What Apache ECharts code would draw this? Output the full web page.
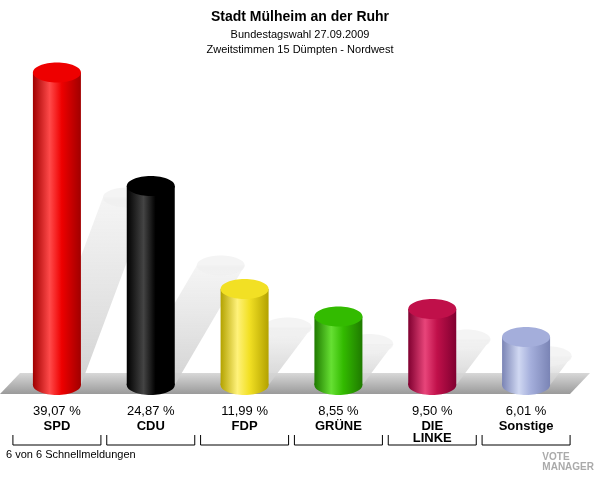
<!doctype html>
<html>
<head>
<meta charset="UTF-8" />
<script src="https://cdn.jsdelivr.net/npm/echarts@6/dist/echarts.min.js"></script>
<style>body{margin:0;background:#fff}#c{width:600px;height:480px}</style>
</head>
<body>
<div id="c"></div>
<script>
var parties = ['SPD', 'CDU', 'FDP', 'GRÜNE', 'DIE\nLINKE', 'Sonstige'];
var values = [39.07, 24.87, 11.99, 8.55, 9.50, 6.01];
var colors = [
    ['#ff4a4a', '#ee0000', '#a00000'],
    ['#444444', '#000000', '#000000'],
    ['#fff27a', '#f2e024', '#b3a200'],
    ['#66e033', '#33bb00', '#1f7a00'],
    ['#e8457a', '#c0104a', '#800030'],
    ['#d0d8f2', '#a4aedb', '#7a84b5']
];
var title = 'Stadt Mülheim an der Ruhr';
var subtitle = 'Bundestagswahl 27.09.2009\nZweitstimmen 15 Dümpten - Nordwest';

var chart = echarts.init(document.getElementById('c'));

function cyl(i, c) {
    return new echarts.graphic.LinearGradient(0, 0, 1, 0, [
        { offset: 0, color: c[2] }, { offset: 0.35, color: c[0] }, { offset: 0.6, color: c[1] }, { offset: 1, color: c[2] }
    ]);
}

// 3D zylinder + schatten
function renderItem(params, api) {
    var i = api.value(0);
    var top = api.coord([i, api.value(1)]);
    var base = api.coord([i, 0]);
    var w = 48, rx = w / 2, ry = 10;
    var h = base[1] - top[1];
    var sdy = h * 0.6, sdx = Math.min(sdy * 0.75, 70);
    var c = colors[i];
    return {
        type: 'group',
        children: [
            { type: 'polygon', shape: { points: [[base[0] - rx, base[1]], [base[0] + rx, base[1]], [base[0] + rx + sdx, base[1] - sdy], [base[0] - rx + sdx, base[1] - sdy]] },
              style: { fill: new echarts.graphic.LinearGradient(0, 1, 0, 0, [{ offset: 0, color: 'rgba(205,205,205,0.9)' }, { offset: 1, color: 'rgba(240,240,240,0.7)' }]) } },
            { type: 'ellipse', shape: { cx: base[0] + sdx, cy: base[1] - sdy, rx: rx, ry: ry }, style: { fill: 'rgba(240,240,240,0.7)' } },
            { type: 'ellipse', shape: { cx: base[0], cy: base[1], rx: rx, ry: ry }, style: { fill: cyl(i, c) } },
            { type: 'rect', shape: { x: base[0] - rx, y: top[1], width: w, height: h }, style: { fill: cyl(i, c) } },
            { type: 'ellipse', shape: { cx: top[0], cy: top[1], rx: rx, ry: ry }, style: { fill: c[1] } }
        ]
    };
}

chart.setOption({
    animation: false,
    title: {
        text: title, subtext: subtitle, left: 'center', top: 5, itemGap: 3,
        textStyle: { fontFamily: 'Liberation Sans', fontSize: 14, fontWeight: 'bold', color: '#000' },
        subtextStyle: { fontFamily: 'Liberation Sans', fontSize: 11, color: '#000', lineHeight: 15 }
    },
    grid: { left: 10, right: 27, top: 65, bottom: 95 },
    xAxis: {
        type: 'category', data: parties,
        axisLine: { show: false }, axisTick: { show: false },
        axisLabel: {
            margin: 18, interval: 0,
            formatter: function (v, idx) { return '{v|' + values[idx].toFixed(2).replace('.', ',') + ' %}\n{n|' + v.replace('\n', '}\n{n|') + '}'; },
            rich: {
                v: { fontFamily: 'Liberation Sans', fontSize: 13, color: '#000', lineHeight: 17 },
                n: { fontFamily: 'Liberation Sans', fontSize: 13, fontWeight: 'bold', color: '#000', lineHeight: 12 }
            }
        }
    },
    yAxis: { type: 'value', min: 0, max: 40, show: false },
    series: [{
        type: 'custom', renderItem: renderItem, clip: false,
        data: values.map(function (v, i) { return [i, v]; }),
        encode: { x: 0, y: 1 }
    }],
    graphic: [
        { type: 'polygon', z: -1, shape: { points: [[0, 394], [20, 373], [590, 373], [570, 394]] },
          style: { fill: new echarts.graphic.LinearGradient(0, 0, 0, 1, [{ offset: 0, color: '#d8d8d8' }, { offset: 1, color: '#9a9a9a' }]) } },
        { type: 'text', left: 6, top: 449, style: { text: '6 von 6 Schnellmeldungen', font: '11px Liberation Sans', fill: '#000' } },
        { type: 'text', right: 6, top: 452, style: { text: 'VOTE\nMANAGER', font: 'bold 10px Liberation Sans', fill: '#aaa' } }
    ]
});

// klammern unter den beschriftungen
var g = chart.getOption().graphic[0].elements.slice();
parties.forEach(function (p, i) {
    var x = chart.convertToPixel({ xAxisIndex: 0 }, i);
    var l = x - 44, r = x + 44;
    g.push({ type: 'polyline', shape: { points: [[l, 435], [l, 445], [r, 445], [r, 435]] }, style: { stroke: '#000', lineWidth: 1, fill: null } });
});
chart.setOption({ graphic: g }, { replaceMerge: ['graphic'] });
</script>
</body>
</html>
